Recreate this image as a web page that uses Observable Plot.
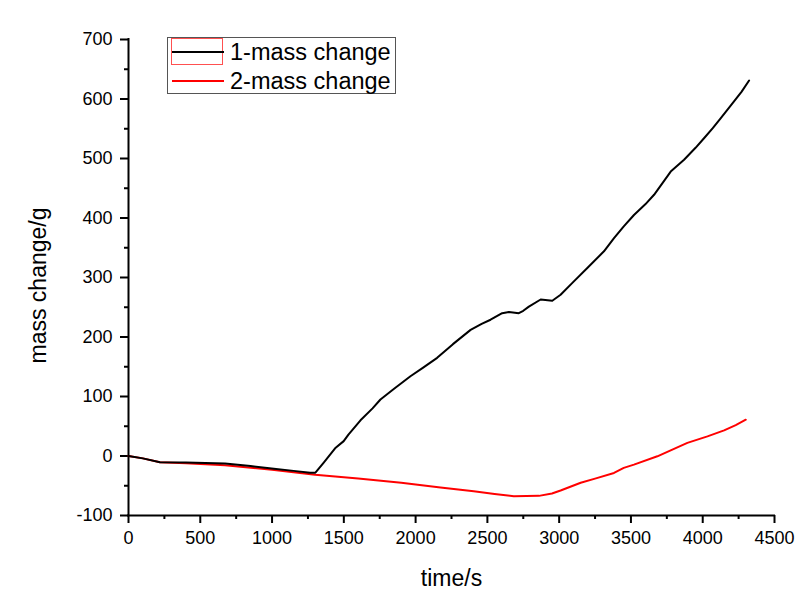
<!DOCTYPE html>
<html>
<head>
<meta charset="utf-8">
<script src="https://cdn.jsdelivr.net/npm/d3@7"></script>
<script src="https://cdn.jsdelivr.net/npm/@observablehq/plot@0.6"></script>
<style>
  html, body { margin: 0; padding: 0; background: #fff; }
  #wrap { position: relative; width: 800px; height: 595px; font-family: "Liberation Sans", Arial, sans-serif; }
  #legend { position: absolute; left: 167px; top: 37px; width: 227px; height: 55px; border: 1px solid #555; background: #fff; }
  .lg-row { position: absolute; left: 0; height: 28px; width: 227px; }
  .lg-line { position: absolute; left: 4px; width: 52px; height: 2px; top: 13px; }
  .lg-sel { position: absolute; left: 3px; top: 0px; width: 52px; height: 27px; border: 1px solid #ff5050; box-sizing: border-box; }
  .lg-text { position: absolute; left: 62px; top: 0; line-height: 28px; font-size: 23.5px; color: #000; white-space: nowrap; }
</style>
</head>
<body>
<div id="wrap">
  <div id="chart"></div>
  <div id="legend"></div>
</div>
<script>
// Series 1: "1-mass change"
const time1 = [0, 100, 219, 400, 672, 850, 997, 1150, 1265, 1302, 1360, 1439, 1499, 1532, 1616, 1700, 1755, 1850, 1964, 2050, 2150, 2260, 2383, 2460, 2522, 2603, 2650, 2719, 2750, 2789, 2871, 2952, 3010, 3092, 3196, 3312, 3382, 3450, 3521, 3600, 3661, 3777, 3870, 3950, 4009, 4070, 4126, 4218, 4270, 4323];
const mass1 = [0, -4, -10.5, -11, -12.8, -17, -21, -25, -28, -28, -11, 13, 25, 36, 60, 80, 95, 113, 134, 148, 165, 188, 212, 222, 229, 240, 242, 240, 244, 251, 263, 261, 271, 291, 316, 344, 366, 386, 405, 423, 439, 478, 498, 518, 534, 551, 568, 596, 612, 631];
// Series 2: "2-mass change"
const time2 = [0, 100, 219, 400, 672, 1000, 1300, 1600, 1900, 2173, 2405, 2550, 2684, 2859, 2950, 3010, 3150, 3250, 3382, 3450, 3521, 3684, 3800, 3893, 4033, 4149, 4230, 4300];
const mass2 = [0, -4, -10.5, -12, -15.6, -23, -31.5, -38, -45, -53, -59.3, -64, -67.7, -67, -63, -58, -45, -38, -28.5, -20, -14.5, -0.5, 12, 22, 33, 43, 52, 61];

const seriesNames = ["1-mass change", "2-mass change"];
const seriesColors = ["#000000", "#ff0000"];

const xTicks = [0, 500, 1000, 1500, 2000, 2500, 3000, 3500, 4000, 4500];
const xMinor = [250, 750, 1250, 1750, 2250, 2750, 3250, 3750, 4250];
const yTicks = [-100, 0, 100, 200, 300, 400, 500, 600, 700];
const yMinor = [-50, 50, 150, 250, 350, 450, 550, 650];

const xLabel = "time/s";
const yLabel = "mass change/g";

const d1 = time1.map((t, i) => ({t, m: mass1[i], s: seriesNames[0]}));
const d2 = time2.map((t, i) => ({t, m: mass2[i], s: seriesNames[1]}));

const fmt = d => String(d);

const chart = Plot.plot({
  width: 800,
  height: 595,
  marginLeft: 128,
  marginRight: 26,
  marginTop: 39,
  marginBottom: 80,
  style: {fontFamily: "'Liberation Sans', Arial, sans-serif", fontSize: "18px", background: "#fff", color: "#000"},
  x: {domain: [0, 4500], nice: false},
  y: {domain: [-100, 700], nice: false},
  marks: [
    Plot.axisX({ticks: xTicks, tickSize: 8, tickPadding: 8, strokeWidth: 2, tickFormat: fmt, label: null, fontSize: 18}),
    Plot.axisX({ticks: xMinor, tickSize: 4, strokeWidth: 2, text: null, label: null}),
    Plot.axisY({ticks: yTicks, tickSize: 8, tickPadding: 8, strokeWidth: 2, tickFormat: fmt, label: null, fontSize: 18}),
    Plot.axisY({ticks: yMinor, tickSize: 4, strokeWidth: 2, text: null, label: null}),
    Plot.ruleY([-100], {strokeWidth: 2, strokeLinecap: "square"}),
    Plot.ruleX([0], {strokeWidth: 2, strokeLinecap: "square"}),
    Plot.line(d2, {x: "t", y: "m", stroke: seriesColors[1], strokeWidth: 2}),
    Plot.line(d1, {x: "t", y: "m", stroke: seriesColors[0], strokeWidth: 2}),
    Plot.text([xLabel], {frameAnchor: "bottom", dy: 63, textAnchor: "middle", lineAnchor: "middle", fontSize: 23, fill: "#000"}),
    Plot.text([yLabel], {frameAnchor: "left", dx: -90, dy: 8, rotate: -90, textAnchor: "middle", lineAnchor: "middle", fontSize: 23, fill: "#000"})
  ]
});
document.getElementById("chart").appendChild(chart);

// Legend
const legend = document.getElementById("legend");
seriesNames.forEach((name, i) => {
  const row = document.createElement("div");
  row.className = "lg-row";
  row.style.top = (i * 28.5) + "px";
  if (i === 0) {
    const sel = document.createElement("div");
    sel.className = "lg-sel";
    row.appendChild(sel);
  }
  const ln = document.createElement("div");
  ln.className = "lg-line";
  ln.style.background = seriesColors[i];
  row.appendChild(ln);
  const tx = document.createElement("div");
  tx.className = "lg-text";
  tx.textContent = name;
  row.appendChild(tx);
  legend.appendChild(row);
});
</script>
</body>
</html>
